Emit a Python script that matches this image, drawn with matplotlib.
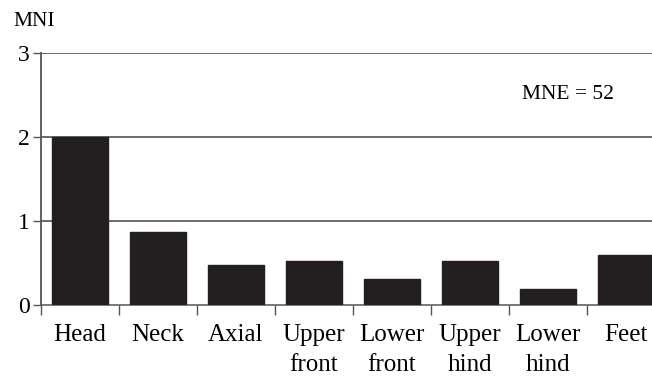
import matplotlib
matplotlib.use("Agg")
import matplotlib.pyplot as plt
import numpy as np

# Skeletal element counts (minimum number of individuals)
categories = ["Head", "Neck", "Axial", "Upper\nfront", "Lower\nfront",
              "Upper\nhind", "Lower\nhind", "Feet"]
mni = [2.0, 0.87, 0.48, 0.52, 0.31, 0.52, 0.19, 0.595]
mne_total = 52

plt.rcParams["font.family"] = "serif"
plt.rcParams["font.serif"] = ["Liberation Serif", "Times New Roman", "DejaVu Serif"]

fig = plt.figure(figsize=(6.52, 3.76), dpi=100)
# axes runs slightly past the right edge of the figure
ax = fig.add_axes([41 / 652, 1 - 305 / 376, 624 / 652, 252 / 376])

x = np.arange(len(categories))
ax.bar(x, mni, width=0.72, color="#231f20", edgecolor="#231f20", zorder=3)

ax.set_xlim(-0.5, len(categories) - 0.5)
ax.set_ylim(0, 3)

# horizontal reference lines
for yv in [1, 2, 3]:
    ax.axhline(yv, color="#444444", linewidth=1.1, zorder=2)

ax.set_yticks([0, 1, 2, 3])
ax.set_yticklabels(["0", "1", "2", "3"], fontsize=17)
ax.tick_params(axis="y", direction="out", length=6, width=1, color="#555555", pad=2)

# ticks at category boundaries, labels at centres
ax.set_xticks(np.arange(len(categories) + 1) - 0.5)
ax.set_xticklabels([])
ax.tick_params(axis="x", which="major", direction="out", length=7, width=1, color="#555555")
ax.set_xticks(x, minor=True)
ax.set_xticklabels(categories, minor=True, fontsize=18, linespacing=1.45)
ax.tick_params(axis="x", which="minor", length=0, pad=14)

for side in ["top", "right"]:
    ax.spines[side].set_visible(False)
ax.spines["left"].set_color("#555555")
ax.spines["left"].set_linewidth(1.3)
ax.spines["bottom"].set_color("#555555")
ax.spines["bottom"].set_linewidth(1.1)

fig.text(13 / 652, 1 - 26 / 376, "MNI", fontsize=15.5, ha="left", va="baseline")
fig.text(522 / 652, 1 - 99 / 376, "MNE = %d" % mne_total, fontsize=15.5,
         ha="left", va="baseline")

fig.savefig("out.png", dpi=100)
